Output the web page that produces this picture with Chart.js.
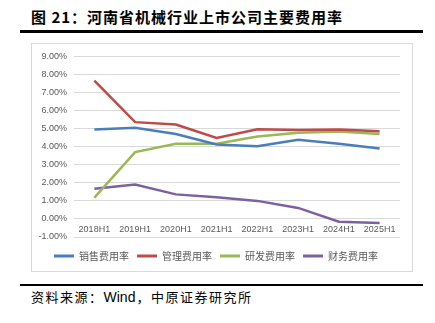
<!DOCTYPE html>
<html>
<head>
<meta charset="utf-8">
<script src="https://cdn.jsdelivr.net/npm/chart.js@4"></script>
<style>
body { margin: 0; background: #fff; font-family: "Noto Sans CJK SC", "Noto Sans", sans-serif; }
#page { position: relative; width: 435px; height: 323px; overflow: hidden; }
#title { position: absolute; left: 31px; top: 6px; font-size: 15px; font-weight: bold; letter-spacing: 1px; color: #000; white-space: nowrap; }
.rule { position: absolute; left: 20px; width: 403px; background: #000; }
#box { position: absolute; left: 31px; top: 43px; width: 382px; height: 229px; border: 1px solid #d9d9d9; box-sizing: border-box; }
#costChart { position: absolute; left: 0; top: 0; }
#source { position: absolute; left: 31px; top: 287px; font-size: 13px; letter-spacing: 1.5px; color: #000; white-space: nowrap; }
#source span { letter-spacing: 0; font-family: "Liberation Sans", sans-serif; font-size: 14px; margin-right: 1px; }
</style>
</head>
<body>
<div id="page">
  <div id="title">图 21：河南省机械行业上市公司主要费用率</div>
  <div class="rule" style="top:30px;height:3px;"></div>
  <div id="box"><canvas id="costChart" width="380" height="231"></canvas></div>
  <div class="rule" style="top:284px;height:2px;"></div>
  <div id="source">资料来源：<span>Wind</span>，中原证券研究所</div>
</div>
<script>
const periods = ['2018H1', '2019H1', '2020H1', '2021H1', '2022H1', '2023H1', '2024H1', '2025H1'];
const salesRate = [4.95, 5.05, 4.70, 4.12, 4.03, 4.38, 4.16, 3.90];
const adminRate = [7.66, 5.36, 5.23, 4.49, 4.97, 4.92, 4.95, 4.86];
const rndRate = [1.18, 3.70, 4.16, 4.16, 4.57, 4.77, 4.84, 4.70];
const financeRate = [1.67, 1.90, 1.36, 1.20, 1.00, 0.61, -0.15, -0.22];
const yTicks = [-1, 0, 1, 2, 3, 4, 5, 6, 7, 8, 9];

function series(label, data, color) {
  return {
    label: label,
    data: data,
    borderColor: color,
    backgroundColor: color,
    borderWidth: 2.5,
    pointRadius: 0,
    tension: 0,
    fill: false,
  };
}

const ctx = document.getElementById('costChart').getContext('2d');

const costChart = new Chart(ctx, {
  type: 'line',
  data: {
    labels: periods,
    datasets: [
      series('销售费用率', salesRate, '#4a7ebb'),
      series('管理费用率', adminRate, '#be4b48'),
      series('研发费用率', rndRate, '#98b954'),
      series('财务费用率', financeRate, '#7d60a0'),
    ]
  },
  options: {
    responsive: false,
    animation: false,
    layout: { padding: { top: 8, right: 12, bottom: 4, left: 0 } },
    scales: {
      y: {
        min: -1,
        max: 9,
        afterBuildTicks: function (scale) {
          scale.ticks = yTicks.map(v => ({ value: v }));
        },
        afterFit: function (scale) { scale.width = 42; },
        border: { display: false },
        grid: { color: '#d9d9d9', lineWidth: 1, drawTicks: false },
        ticks: {
          padding: 7,
          color: '#595959',
          font: { family: 'Liberation Sans', size: 9 },
          callback: v => v.toFixed(2) + '%'
        }
      },
      x: {
        position: { y: 0 },
        offset: true,
        border: { display: false },
        grid: { display: false, drawTicks: false },
        ticks: {
          padding: 5,
          maxRotation: 0,
          color: '#595959',
          font: { family: 'Liberation Sans', size: 9 }
        }
      }
    },
    plugins: {
      legend: {
        position: 'bottom',
        title: { display: true, text: '', padding: 0, font: { size: 5 } },
        labels: {
          boxWidth: 20,
          boxHeight: 3,
          padding: 8,
          color: '#595959',
          font: { family: 'Noto Sans CJK SC', size: 10 },
          generateLabels: function (chart) {
            const items = Chart.defaults.plugins.legend.labels.generateLabels(chart);
            items.forEach(it => { it.lineWidth = 0; });
            return items;
          }
        }
      },
      tooltip: { enabled: false }
    }
  }
});
</script>
</body>
</html>
